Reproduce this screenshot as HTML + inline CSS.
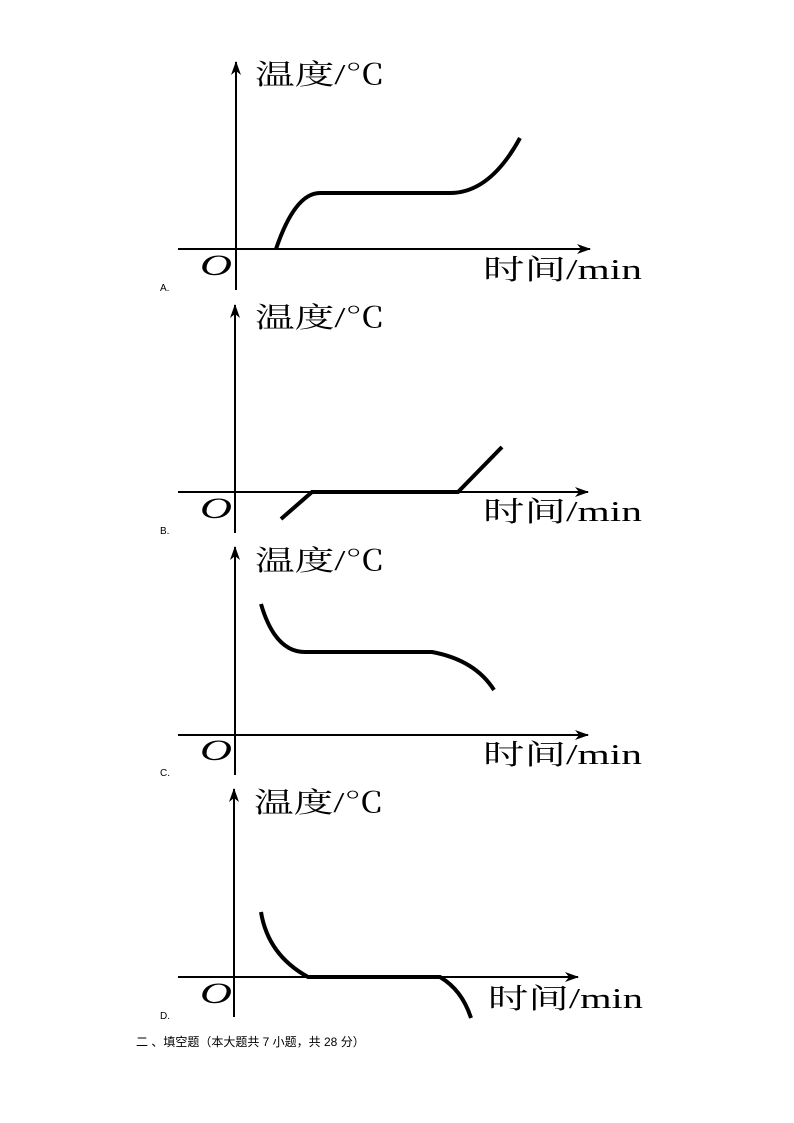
<!DOCTYPE html>
<html><head><meta charset="utf-8"><style>
html,body{margin:0;padding:0;background:#fff;}
svg{display:block}
</style></head><body>
<svg width="794" height="1123" viewBox="0 0 794 1123" xmlns="http://www.w3.org/2000/svg">
<defs><marker id="ar" markerWidth="14" markerHeight="10" refX="13" refY="5" orient="auto" markerUnits="userSpaceOnUse"><path d="M0,0 L14,5 L0,10 L4,5 Z" fill="#000"/></marker></defs>
<g font-family="'Liberation Serif','Noto Serif CJK SC',serif" fill="#000">
<!-- A -->
<line x1="236" y1="290" x2="236" y2="62" stroke="#000" stroke-width="2" marker-end="url(#ar)"/>
<line x1="178" y1="249" x2="590" y2="249" stroke="#000" stroke-width="2" marker-end="url(#ar)"/>
<text x="255" y="84" font-size="28" textLength="130" lengthAdjust="spacingAndGlyphs">温度/℃</text>
<text x="200" y="275" font-size="30" font-style="italic" textLength="32" lengthAdjust="spacingAndGlyphs">O</text>
<text x="483" y="279" font-size="28" textLength="159" lengthAdjust="spacingAndGlyphs">时间/min</text>
<text x="160" y="291" font-size="10" font-family="'Liberation Sans',sans-serif">A.</text>
<path d="M276,249 Q295,193 320,193 L450,193 Q490,193 520,138" fill="none" stroke="#000" stroke-width="4"/>
<!-- B -->
<line x1="235" y1="533" x2="235" y2="305" stroke="#000" stroke-width="2" marker-end="url(#ar)"/>
<line x1="178" y1="492" x2="588" y2="492" stroke="#000" stroke-width="2" marker-end="url(#ar)"/>
<text x="255" y="327" font-size="28" textLength="130" lengthAdjust="spacingAndGlyphs">温度/℃</text>
<text x="200" y="518" font-size="30" font-style="italic" textLength="32" lengthAdjust="spacingAndGlyphs">O</text>
<text x="483" y="521" font-size="28" textLength="159" lengthAdjust="spacingAndGlyphs">时间/min</text>
<text x="160" y="534" font-size="10" font-family="'Liberation Sans',sans-serif">B.</text>
<path d="M281,519 L312,492 L458,492 L502,447" fill="none" stroke="#000" stroke-width="4"/>
<!-- C -->
<line x1="235" y1="775" x2="235" y2="547" stroke="#000" stroke-width="2" marker-end="url(#ar)"/>
<line x1="178" y1="735" x2="588" y2="735" stroke="#000" stroke-width="2" marker-end="url(#ar)"/>
<text x="255" y="570" font-size="28" textLength="130" lengthAdjust="spacingAndGlyphs">温度/℃</text>
<text x="200" y="760" font-size="30" font-style="italic" textLength="32" lengthAdjust="spacingAndGlyphs">O</text>
<text x="483" y="764" font-size="28" textLength="159" lengthAdjust="spacingAndGlyphs">时间/min</text>
<text x="160" y="776" font-size="10" font-family="'Liberation Sans',sans-serif">C.</text>
<path d="M261,604 Q275,652 305,652 L432,652 Q475,660 494,690" fill="none" stroke="#000" stroke-width="4"/>
<!-- D -->
<line x1="234" y1="1017" x2="234" y2="789" stroke="#000" stroke-width="2" marker-end="url(#ar)"/>
<line x1="178" y1="977" x2="578" y2="977" stroke="#000" stroke-width="2" marker-end="url(#ar)"/>
<text x="254" y="812" font-size="28" textLength="130" lengthAdjust="spacingAndGlyphs">温度/℃</text>
<text x="200" y="1003" font-size="30" font-style="italic" textLength="32" lengthAdjust="spacingAndGlyphs">O</text>
<text x="488" y="1008" font-size="28" textLength="155" lengthAdjust="spacingAndGlyphs">时间/min</text>
<text x="160" y="1019" font-size="10" font-family="'Liberation Sans',sans-serif">D.</text>
<path d="M261,912 Q268,955 308,977 L440,977 Q462,990 471,1018" fill="none" stroke="#000" stroke-width="4"/>
<text x="136" y="1046" font-size="12" font-family="'Liberation Sans','Noto Sans CJK SC',sans-serif">二 、填空题（本大题共 7 小题，共 28 分）</text>
</g>
</svg>
</body></html>
